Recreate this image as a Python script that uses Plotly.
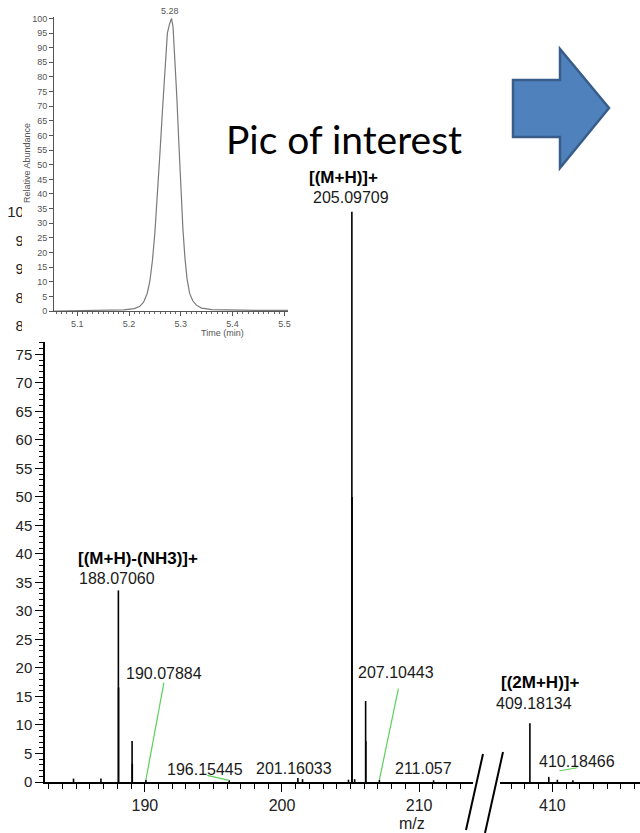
import plotly.graph_objects as go

W, H = 640, 833

# ---------------- mass spectrum (relative abundance, %) ----------------
# low m/z window
mz_low = [184.8, 186.8, 188.0706, 188.085, 189.07, 189.085, 190.07884, 196.15445,
          201.16033, 201.5, 204.85, 205.09709, 205.11, 205.3, 206.10, 206.115,
          207.10443, 211.057]
int_low = [0.6, 0.6, 33.6, 16.6, 7.2, 3.2, 0.4, 0.3,
           0.7, 0.5, 0.4, 100.0, 50.0, 0.5, 14.2, 7.2,
           0.4, 0.3]
# dimer window
mz_high = [409.18134, 409.87, 410.18466, 410.75]
int_high = [10.3, 0.9, 0.4, 0.3]

# ---------------- extracted ion chromatogram ----------------
rt_min = [5.055, 5.10, 5.15, 5.19, 5.21, 5.22, 5.228, 5.235, 5.24, 5.245, 5.25,
          5.255, 5.26, 5.265, 5.27, 5.274, 5.278, 5.282, 5.285, 5.288, 5.292,
          5.296, 5.30, 5.304, 5.308, 5.312, 5.317, 5.323, 5.33, 5.34, 5.36,
          5.40, 5.45, 5.507]
rel_ab = [0.0, 0.2, 0.3, 0.4, 0.8, 1.5, 3, 6, 10, 17, 27,
          40, 55, 70, 85, 95, 98, 100, 97, 88, 74,
          58, 42, 28, 18, 11, 6, 3.5, 2, 1, 0.5,
          0.3, 0.2, 0.2]
rt_apex = 5.28

# ---------------- labels ----------------
# (text, window, m/z of the peak, bold, dx px, dy px from the peak top)
peak_labels = [
    ("[(M+H)-(NH3)]+", "low", 188.0706, True, 20, 32),
    ("188.07060", "low", 188.0706, False, -1, 12),
    ("190.07884", "low", 190.07884, False, 18, 106),
    ("196.15445", "low", 196.15445, False, -24, 11),
    ("201.16033", "low", 201.16033, False, -4, 10),
    ("[(M+H)]+", "low", 205.09709, True, -8, 34),
    ("205.09709", "low", 205.09709, False, -1, 14),
    ("207.10443", "low", 207.10443, False, 17, 107),
    ("211.057", "low", 211.057, False, -10, 12),
    ("[(2M+H)]+", "high", 409.18134, True, 10, 41),
    ("409.18134", "high", 409.18134, False, 4, 20),
    ("410.18466", "high", 410.18466, False, 20, 18),
]
# green leader lines: (window, m/z, start dx, start dy, end dx, end dy) in px
leaders = [
    ("low", 190.07884, 0, 0, 18, 97),
    ("low", 196.15445, 0, 0, -22, 5),
    ("low", 207.10443, 0, 0, 19, 91),
    ("high", 410.18466, 2, 9, 20, 12),
]

y_ticks_main = list(range(0, 101, 5))
x_ticks_low = [190, 200, 210]
x_ticks_high = [410]
rt_ticks = [5.1, 5.2, 5.3, 5.4, 5.5]
ab_ticks = list(range(0, 101, 5))


def fx(px):
    return px / W


def fy(py):
    return (H - py) / H


FONT = "Liberation Sans, Arial, sans-serif"


def sticks(mz, ab):
    xs, ys = [], []
    for m, a in zip(mz, ab):
        xs += [m, m, None]
        ys += [0, a, None]
    return xs, ys


fig = go.Figure()

xs, ys = sticks(mz_low, int_low)
fig.add_trace(go.Scatter(x=xs, y=ys, mode="lines", xaxis="x", yaxis="y",
                         line=dict(color="black", width=1.6), hoverinfo="skip",
                         showlegend=False))
xs, ys = sticks(mz_high, int_high)
fig.add_trace(go.Scatter(x=xs, y=ys, mode="lines", xaxis="x2", yaxis="y",
                         line=dict(color="black", width=1.6), hoverinfo="skip",
                         showlegend=False))
# blank panel behind the chromatogram inset
fig.add_trace(go.Scatter(x=[], y=[], xaxis="x3", yaxis="y3", showlegend=False,
                         hoverinfo="skip"))
# chromatogram inset
fig.add_trace(go.Scatter(x=rt_min, y=rel_ab, mode="lines", xaxis="x4", yaxis="y4",
                         line=dict(color="#7a7a7a", width=1.2), hoverinfo="skip",
                         showlegend=False))

axis_common = dict(showgrid=False, zeroline=False, showline=True, linecolor="black",
                   ticks="outside", tickcolor="black", automargin=False)

fig.update_layout(
    template="none",
    width=W, height=H,
    margin=dict(l=0, r=0, t=0, b=0, pad=0, autoexpand=False),
    paper_bgcolor="white", plot_bgcolor="white",
    font=dict(family=FONT, color="#111"),
    showlegend=False,
    xaxis=dict(domain=[fx(45), fx(473)], range=[182.72, 213.93], anchor="y",
               tickvals=x_ticks_low, ticklen=8, tickwidth=1.3, linewidth=2,
               tickfont=dict(size=16, color="#222"),
               minor=dict(dtick=1, tick0=180, ticklen=5, ticks="outside",
                          tickcolor="black", tickwidth=1),
               **axis_common),
    xaxis2=dict(domain=[fx(500), 1.0], range=[408.09, 413.2], anchor="y",
                tickvals=x_ticks_high, ticklen=8, tickwidth=1.3, linewidth=2,
                tickfont=dict(size=16, color="#222"),
                minor=dict(dtick=0.5, tick0=400, ticklen=5, ticks="outside",
                           tickcolor="black", tickwidth=1),
                **axis_common),
    yaxis=dict(domain=[fy(782), fy(189)], range=[0, 104], anchor="x",
               tickvals=y_ticks_main, ticklen=8, tickwidth=1, linewidth=1.5,
               tickfont=dict(size=15, color="#222"),
               minor=dict(dtick=1, ticklen=4, ticks="outside", tickcolor="black",
                          tickwidth=1),
               **axis_common),
    xaxis3=dict(domain=[fx(22), fx(300)], visible=False, anchor="y3", range=[0, 1],
                automargin=False),
    yaxis3=dict(domain=[fy(342), 1.0], visible=False, anchor="x3", range=[0, 1],
                automargin=False),
    xaxis4=dict(domain=[fx(54), fx(288)], range=[5.055, 5.507], anchor="y4",
                tickvals=rt_ticks, ticktext=[f"{t:.1f}" for t in rt_ticks],
                ticklen=4, linecolor="#555", tickcolor="#555", linewidth=1,
                tickfont=dict(size=9, color="#555"),
                minor=dict(dtick=0.01, tick0=5.0, ticklen=2, ticks="outside",
                           tickcolor="#666"),
                showgrid=False, zeroline=False, showline=True, ticks="outside",
                automargin=False),
    yaxis4=dict(domain=[fy(311), fy(17)], range=[0, 100.5], anchor="x4",
                tickvals=ab_ticks, ticklen=4, linecolor="#555", tickcolor="#555",
                linewidth=1, tickfont=dict(size=9, color="#555"),
                showgrid=False, zeroline=False, showline=True, ticks="outside",
                automargin=False),
)

ann = []
seg = {"low": ("x", "y"), "high": ("x2", "y")}
for text, win, mz, bold, dx, dy in peak_labels:
    if win == "low":
        h = int_low[mz_low.index(mz)]
    else:
        h = int_high[mz_high.index(mz)]
    xr, yr = seg[win]
    ann.append(dict(x=mz, y=h, xref=xr, yref=yr, text=f"<b>{text}</b>" if bold else text,
                    showarrow=False, xanchor="center", yanchor="middle",
                    xshift=dx, yshift=dy,
                    font=dict(size=17 if bold else 16, color="black" if bold else "#1a1a1a",
                              family=FONT)))

# chromatogram annotations
ann.append(dict(x=rt_apex, y=100, xref="x4", yref="y4", text=f"{rt_apex:.2f}",
                showarrow=False, xanchor="center", yanchor="bottom", yshift=0,
                font=dict(size=9, color="#555")))
ann.append(dict(x=fx(222), y=fy(333), xref="paper", yref="paper", text="Time (min)",
                showarrow=False, xanchor="center", yanchor="middle",
                font=dict(size=9, color="#555")))
ann.append(dict(x=fx(27), y=fy(163), xref="paper", yref="paper",
                text="Relative Abundance", textangle=-90, showarrow=False,
                xanchor="center", yanchor="middle",
                font=dict(size=9, color="#555")))
ann.append(dict(x=fx(412), y=fy(823), xref="paper", yref="paper", text="m/z",
                showarrow=False, xanchor="center", yanchor="middle",
                font=dict(size=16, color="#222")))
ann.append(dict(x=fx(344), y=fy(139), xref="paper", yref="paper",
                text="Pic of interest", showarrow=False,
                xanchor="center", yanchor="middle",
                font=dict(size=39, color="black", family="Lato, Open Sans, sans-serif")))
fig.update_layout(annotations=ann)

shapes = []
for win, mz, x0, y0, x1, y1 in leaders:
    if win == "low":
        h = int_low[mz_low.index(mz)]
    else:
        h = int_high[mz_high.index(mz)]
    xr, yr = seg[win]
    shapes.append(dict(type="line", xref=xr, yref=yr, xsizemode="pixel",
                       ysizemode="pixel", xanchor=mz, yanchor=h,
                       x0=x0, y0=y0, x1=x1, y1=y1,
                       line=dict(color="#5ccf5c", width=1.2), layer="above"))

# axis break marks
for (ax0, ay0, ax1, ay1) in [(483, 754, 466, 830), (503, 752, 485, 833)]:
    shapes.append(dict(type="line", xref="paper", yref="paper",
                       x0=fx(ax0), y0=fy(ay0), x1=fx(ax1), y1=fy(ay1),
                       line=dict(color="black", width=2)))

# block arrow
arrow_pts = [(513, 80), (560, 80), (560, 49), (609, 108), (560, 168), (560, 137), (513, 137)]
path = "M " + " L ".join(f"{fx(px):.5f},{fy(py):.5f}" for px, py in arrow_pts) + " Z"
shapes.append(dict(type="path", xref="paper", yref="paper", path=path,
                   fillcolor="#4F81BD", line=dict(color="#385D8A", width=2.5)))
fig.update_layout(shapes=shapes)

fig.write_html("out.html")
